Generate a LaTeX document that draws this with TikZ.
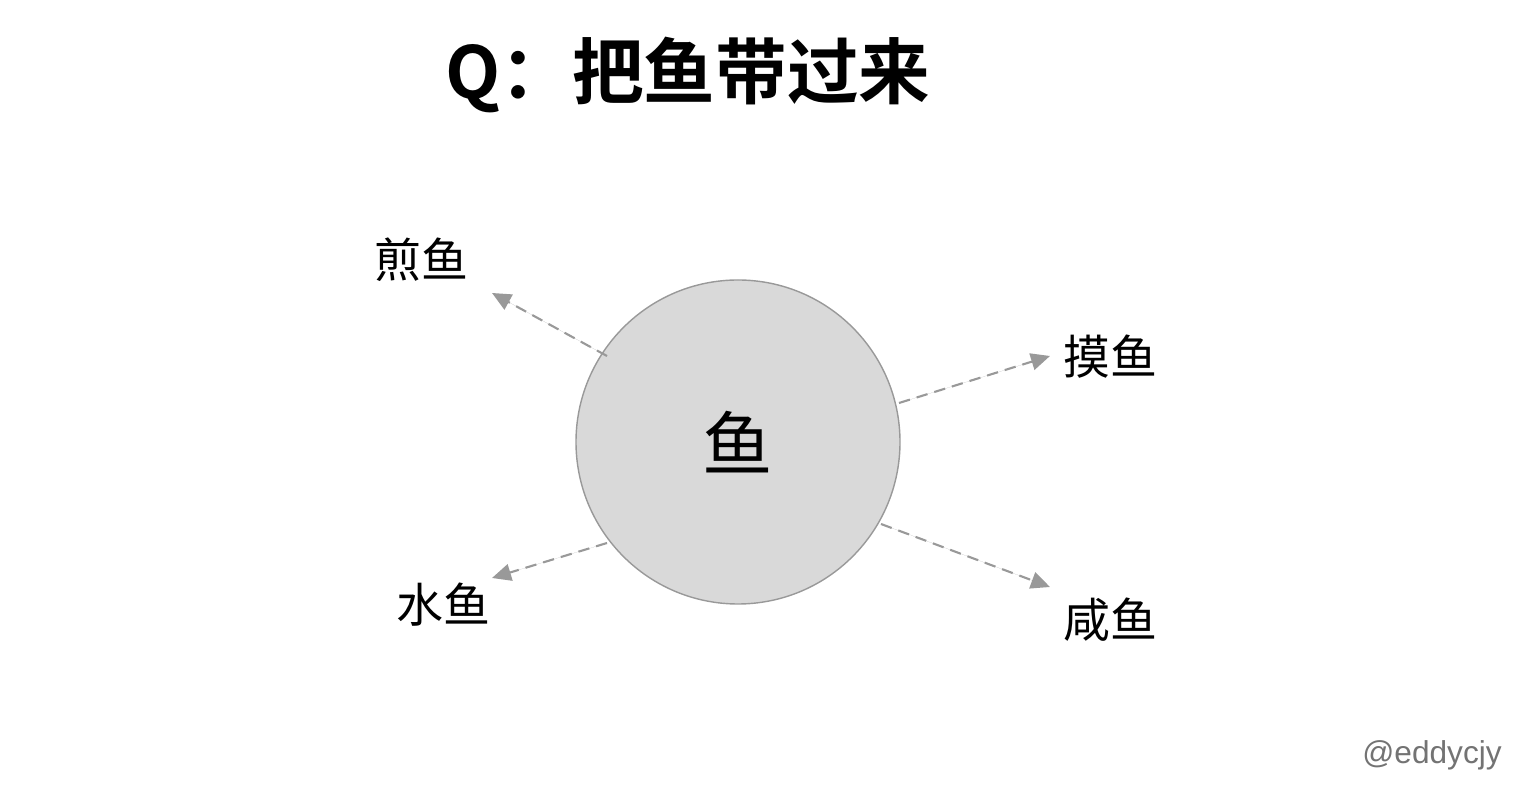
\documentclass[tikz,border=0pt]{standalone}
\usepackage{fontspec}
\newfontfamily\cjk[BoldFont={Noto Sans CJK SC Bold}]{Noto Sans CJK SC}
\newfontfamily\tagfont{Liberation Sans}
\usetikzlibrary{arrows.meta}

\begin{document}
\begin{tikzpicture}[>={Triangle[length=0.38cm,width=0.34cm]},line cap=butt,font=\cjk,
  dish/.style={font=\cjk\fontsize{26.7}{30}\selectfont,inner sep=0pt},
  fishlink/.style={->,draw=gray!80,fill=gray!80,line width=1.2pt,
    dash pattern=on 6.5pt off 4pt}]

  \useasboundingbox (0,0) rectangle (30.64,15.96);

  % title
  \node[font=\cjk\bfseries\fontsize{40.8}{46}\selectfont] (title) at (13.76,14.46) {Q：把鱼带过来};

  % the fish itself
  \node[circle,draw=gray!80,fill=gray!30,line width=0.8pt,minimum size=6.48cm,
    font=\cjk\fontsize{40}{44}\selectfont] (fish) at (14.76,7.12) {鱼};

  % ways to treat a fish
  \node[dish] (jian) at (8.42,10.76) {煎鱼};
  \node[dish] (mo)   at (22.2,8.82)  {摸鱼};
  \node[dish] (shui) at (8.86,3.86)  {水鱼};
  \node[dish] (xian) at (22.2,3.56)  {咸鱼};

  % arrow ends
  \coordinate (jianS) at (12.14,8.84);
  \coordinate (jianE) at (9.84,10.10);
  \coordinate (moS)   at (17.98,7.90);
  \coordinate (moE)   at (21.0,8.84);
  \coordinate (shuiS) at (12.14,5.10);
  \coordinate (shuiE) at (9.84,4.40);
  \coordinate (xianS) at (17.62,5.48);
  \coordinate (xianE) at (21.0,4.22);

  \foreach \w in {jian,mo,shui,xian}
    \draw[fishlink] (\w S) -- (\w E);

  % watermark
  \node[font=\tagfont\fontsize{18}{20}\selectfont,text=black!55] (tag) at (28.64,0.86) {@eddycjy};
\end{tikzpicture}
\end{document}
